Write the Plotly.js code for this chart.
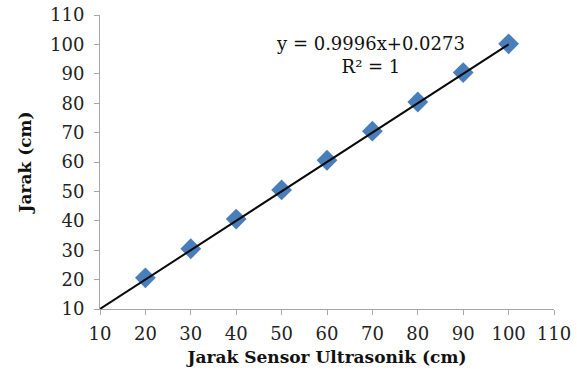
<!DOCTYPE html>
<html>
<head>
<meta charset="utf-8">
<script src="https://cdn.plot.ly/plotly-3.0.1.min.js"></script>
<style>html,body{margin:0;padding:0;background:#fff;}#chart{width:577px;height:376px;}</style>
</head>
<body>
<div id="chart"></div>
<script>
const sensorX = [20, 30, 40, 50, 60, 70, 80, 90, 100];
const jarakY = [20.6, 30.5, 40.6, 50.5, 60.6, 70.5, 80.4, 90.4, 100.2];
const trendSlope = 0.9996;
const trendIntercept = 0.0273;
const trendRangeX = [10, 100];
const tickVals = [10, 20, 30, 40, 50, 60, 70, 80, 90, 100, 110];
const equationText = "y = 0.9996x+0.0273<br>R² = 1";

const trendY = trendRangeX.map(x => trendSlope * x + trendIntercept);
const font = "DejaVu Serif, serif";

const data = [
  {x: sensorX, y: jarakY, type: 'scatter', mode: 'markers',
   marker: {symbol: 'diamond', size: 16, color: '#4a7ebb'}, showlegend: false},
  {x: trendRangeX, y: trendY, type: 'scatter', mode: 'lines',
   line: {color: '#0a0a0a', width: 2}, showlegend: false}
];

const axisCommon = {
  tickvals: tickVals, showgrid: false, zeroline: false,
  showline: true, linecolor: '#a6a6a6', linewidth: 1,
  ticks: 'outside', ticklen: 5, tickcolor: '#a6a6a6',
  tickfont: {family: font, size: 18, color: '#222'}
};

const layout = {
  width: 577, height: 376,
  margin: {l: 100, r: 23, t: 15, b: 67},
  paper_bgcolor: '#fff', plot_bgcolor: '#fff',
  xaxis: Object.assign({}, axisCommon, {range: [10, 110], ticklabelstandoff: 3,
    title: {text: '<b>Jarak Sensor Ultrasonik (cm)</b>', font: {family: font, size: 17, color: '#111'}, standoff: 8}}),
  yaxis: Object.assign({}, axisCommon, {range: [10, 110], ticklabelstandoff: 6,
    title: {text: '<b>Jarak (cm)</b>', font: {family: font, size: 17, color: '#111'}, standoff: 14}}),
  annotations: [{
    x: 69.6, y: 96.5, xref: 'x', yref: 'y', text: equationText, showarrow: false,
    font: {family: font, size: 18, color: '#111'}, align: 'center', xanchor: 'center', yanchor: 'middle'
  }]
};

Plotly.newPlot('chart', data, layout, {displayModeBar: false, staticPlot: true});
</script>
</body>
</html>
